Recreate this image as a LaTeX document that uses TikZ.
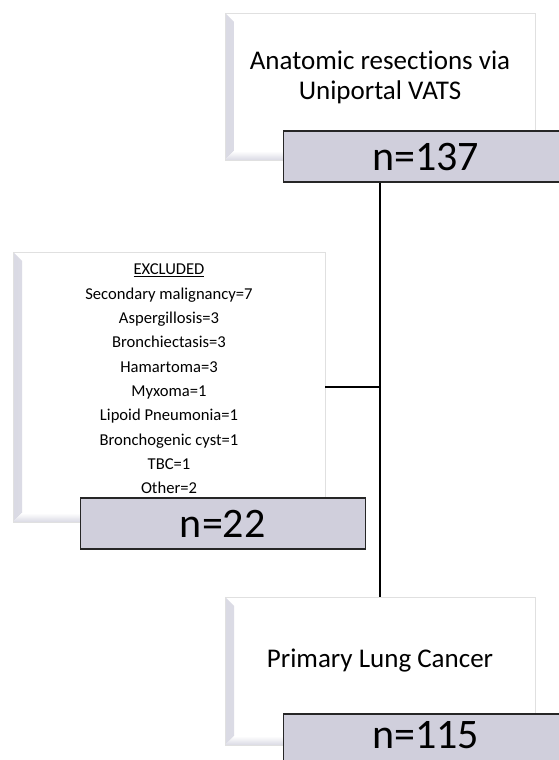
\documentclass[tikz,border=0pt]{standalone}
\usepackage{fontspec}
\setmainfont{Carlito}[Ligatures=NoCommon, RawFeature={-calt}]
\usetikzlibrary{positioning}
\definecolor{boxgray}{RGB}{208,207,220}
\definecolor{bevelgray}{RGB}{218,218,228}

\begin{document}
\begin{tikzpicture}[
    x=1pt, y=1pt,
    wbox/.style={rectangle, draw=black!12, line width=0.8pt, fill=white,
                 minimum width=310pt, minimum height=147pt, inner sep=0pt,
                 path picture={
                   \shade[left color=bevelgray, right color=white]
                     (path picture bounding box.north west)
                     -- (path picture bounding box.south west)
                     -- ([shift={(9pt,9pt)}]path picture bounding box.south west)
                     -- ([shift={(9pt,-9pt)}]path picture bounding box.north west) -- cycle;
                   \shade[bottom color=bevelgray, top color=white]
                     (path picture bounding box.south west)
                     -- (path picture bounding box.south east)
                     -- ([shift={(-2pt,9pt)}]path picture bounding box.south east)
                     -- ([shift={(9pt,9pt)}]path picture bounding box.south west) -- cycle;
                 }},
    gbox/.style={rectangle, draw=black!85, line width=1.3pt, fill=boxgray,
                 minimum width=285pt, minimum height=51pt, inner sep=0pt,
                 font=\fontsize{42}{50}\selectfont},
    title/.style={align=center, font=\fontsize{27}{30}\selectfont},
    list/.style={align=center, font=\fontsize{16.6}{24.3}\selectfont},
    conn/.style={line width=1.3pt, color=black}
]
\clip (0,0) rectangle (559,760);

% top
\node[wbox] (start) at (380,673.5) {};
\node[title] (starttext) at ([yshift=9.5pt]start.center) {Anatomic resec\kern0pt tions via\\Uniportal VATS};
\node[gbox, anchor=north west] (n137) at ([xshift=58pt,yshift=30pt]start.south west) {n=137};

% excluded
\node[wbox, minimum width=312pt, minimum height=270pt] (excl) at (169,373) {};
\node[list] (excltext) at ([yshift=8pt]excl.center)
  {\underline{EXCLUDED}\\Secondary malignancy=7\\Aspergillosis=3\\Bronchiectasis=3\\Hamartoma=3\\Myxoma=1\\Lipoid Pneumonia=1\\Bronchogenic cyst=1\\TBC=1\\Other=2};
\node[gbox, anchor=north west] (n22) at ([xshift=67pt,yshift=25pt]excl.south west) {n=22};

% bottom
\node[wbox, minimum height=148pt] (cancer) at (380,89) {};
\node[title] (cancertext) at ([yshift=10pt]cancer.center) {Primary Lung Cancer};
\node[gbox, anchor=north west] (n115) at ([xshift=58pt,yshift=32pt]cancer.south west) {};
\node[font=\fontsize{42}{50}\selectfont] (n115text) at ([yshift=4pt]n115.center) {n=115};

\draw[conn] (n137.south -| start.center) -- (cancer.north);
\draw[conn] (excl.east) -- (excl.east -| start.center);
\end{tikzpicture}
\end{document}
